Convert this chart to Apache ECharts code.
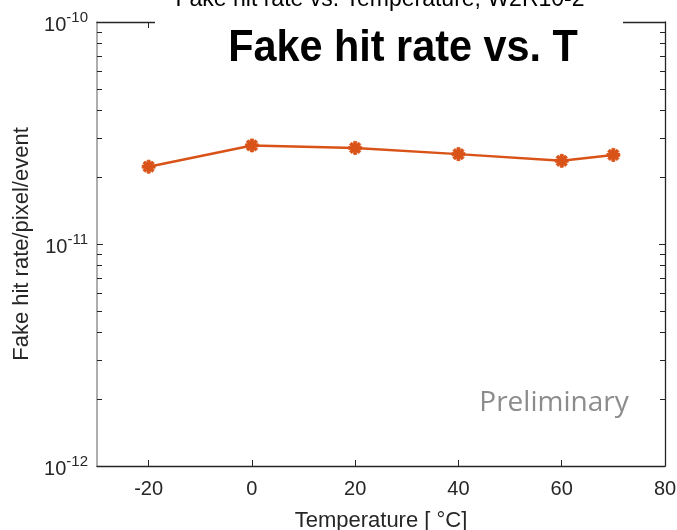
<!DOCTYPE html>
<html>
<head>
<meta charset="utf-8">
<script src="https://cdn.jsdelivr.net/npm/echarts@6/dist/echarts.min.js"></script>
<style>
  html, body { margin: 0; padding: 0; background: #fff; }
  #chart { width: 677px; height: 530px; }
</style>
</head>
<body>
<div id="chart"></div>
<script>
// Measured fake hit rate per pixel per event at each temperature (W2R10-2)
const temperatures = [-20, 0, 20, 40, 60, 70];
const fakeHitRate = [2.23e-11, 2.78e-11, 2.71e-11, 2.54e-11, 2.37e-11, 2.52e-11];
const xTickValues = [-20, 0, 20, 40, 60, 80];

const AXIS_DARK = '#262626';
const AXIS_GRAY = '#9a9a9a';
const LINE_COLOR = '#D95319';
const FONT = '"Liberation Sans", Arial, sans-serif';

// minor tick positions (2..9 × 10^n) in log10 space
const minorLog = [];
for (let e = -12; e < -10; e++) {
  for (let k = 2; k <= 9; k++) minorLog.push(Math.log10(k) + e);
}

// asterisk marker: four bars (vertical, horizontal, two diagonals)
const asterisk = 'path://M-1.2,-5L1.2,-5L1.2,5L-1.2,5Z' +
  'M-5,-1.2L5,-1.2L5,1.2L-5,1.2Z' +
  'M-2.68,-4.38L4.38,2.68L2.68,4.38L-4.38,-2.68Z' +
  'M4.38,-2.68L-2.68,4.38L-4.38,2.68L2.68,-4.38Z';

function decadeLabel(v) {
  const e = Math.round(Math.log10(v));
  return '{b|10}{s|' + e + '}';
}

const chart = echarts.init(document.getElementById('chart'), null, { renderer: 'canvas' });

chart.setOption({
  animation: false,
  backgroundColor: '#fff',
  grid: { left: 97, right: 12, top: 22, bottom: 64, containLabel: false, outerBoundsMode: 'none' },
  xAxis: [
    {
      type: 'value', position: 'bottom', min: -30, max: 80, interval: 10,
      name: 'Temperature [ \u00B0C]', nameLocation: 'middle', nameGap: 44,
      nameTextStyle: { fontFamily: FONT, fontSize: 22, color: AXIS_DARK },
      axisLine: { show: true, onZero: false, lineStyle: { color: AXIS_DARK, width: 1.3 } },
      axisTick: { show: true, inside: true, length: 6, customValues: xTickValues,
        lineStyle: { color: AXIS_DARK, width: 1 } },
      axisLabel: { show: true, customValues: xTickValues, margin: 13,
        fontFamily: FONT, fontSize: 20, color: AXIS_DARK },
      splitLine: { show: false }
    },
    {
      type: 'value', position: 'top', min: -30, max: 80, interval: 10,
      axisLine: { show: true, onZero: false, lineStyle: { color: AXIS_DARK, width: 1.3 } },
      axisTick: { show: true, inside: true, length: 6, customValues: xTickValues,
        lineStyle: { color: AXIS_DARK, width: 1 } },
      axisLabel: { show: false },
      splitLine: { show: false }
    }
  ],
  yAxis: [
    {
      type: 'log', logBase: 10, position: 'left', min: 1e-12, max: 1e-10, interval: 1,
      name: 'Fake hit rate/pixel/event', nameLocation: 'middle', nameGap: 60,
      nameTextStyle: { fontFamily: FONT, fontSize: 22, color: AXIS_DARK },
      axisLine: { show: true, onZero: false, lineStyle: { color: AXIS_GRAY, width: 1.6 } },
      axisTick: { show: true, inside: true, length: 6, lineStyle: { color: AXIS_DARK, width: 1 } },
      axisLabel: {
        show: true, margin: 9, formatter: decadeLabel,
        rich: {
          b: { fontFamily: FONT, fontSize: 20, color: AXIS_DARK, padding: [6, 0, 0, 0] },
          s: { fontFamily: FONT, fontSize: 15, color: AXIS_DARK, padding: [0, 0, 8, 0] }
        }
      },
      splitLine: { show: false }
    },
    {
      type: 'value', position: 'left', min: -12, max: -10,
      axisLine: { show: false, onZero: false },
      axisTick: { show: true, inside: true, length: 5, customValues: minorLog,
        lineStyle: { color: AXIS_DARK, width: 1 } },
      axisLabel: { show: false },
      splitLine: { show: false }
    },
    {
      type: 'log', logBase: 10, position: 'right', min: 1e-12, max: 1e-10, interval: 1,
      axisLine: { show: true, onZero: false, lineStyle: { color: AXIS_DARK, width: 1.3 } },
      axisTick: { show: true, inside: true, length: 6, lineStyle: { color: AXIS_DARK, width: 1 } },
      axisLabel: { show: false },
      splitLine: { show: false }
    },
    {
      type: 'value', position: 'right', min: -12, max: -10,
      axisLine: { show: false, onZero: false },
      axisTick: { show: true, inside: true, length: 5, customValues: minorLog,
        lineStyle: { color: AXIS_DARK, width: 1 } },
      axisLabel: { show: false },
      splitLine: { show: false }
    }
  ],
  series: [
    {
      type: 'line',
      xAxisIndex: 0, yAxisIndex: 0,
      data: temperatures.map((t, i) => [t, fakeHitRate[i]]),
      symbol: asterisk, symbolSize: 13,
      lineStyle: { color: LINE_COLOR, width: 2.5 },
      itemStyle: { color: LINE_COLOR, borderColor: LINE_COLOR, borderWidth: 0.8 },
      z: 5
    }
  ],
  graphic: [
    // figure title, partly cut by the top edge
    {
      type: 'text', x: 380, y: 0, z: 1,
      style: { text: 'Fake hit rate vs. Temperature, W2R10-2', fontFamily: FONT, fontSize: 23,
        fill: '#000', align: 'center', verticalAlign: 'middle' }
    },
    // white band behind the big heading
    {
      type: 'rect', shape: { x: 155, y: 14, width: 468, height: 62 }, z: 20,
      style: { fill: '#fff' }
    },
    {
      type: 'text', x: 403, y: 49, z: 21, scaleX: 0.92,
      style: { text: 'Fake hit rate vs. T', fontFamily: FONT, fontWeight: 'bold', fontSize: 45,
        fill: '#000', align: 'center', verticalAlign: 'middle' }
    },
    {
      type: 'text', x: 554, y: 403, z: 21,
      style: { text: 'Preliminary', fontFamily: '"Open Sans", "Noto Sans", sans-serif', fontSize: 28,
        fill: '#8c8c8c', align: 'center', verticalAlign: 'middle' }
    }
  ]
});
</script>
</body>
</html>
